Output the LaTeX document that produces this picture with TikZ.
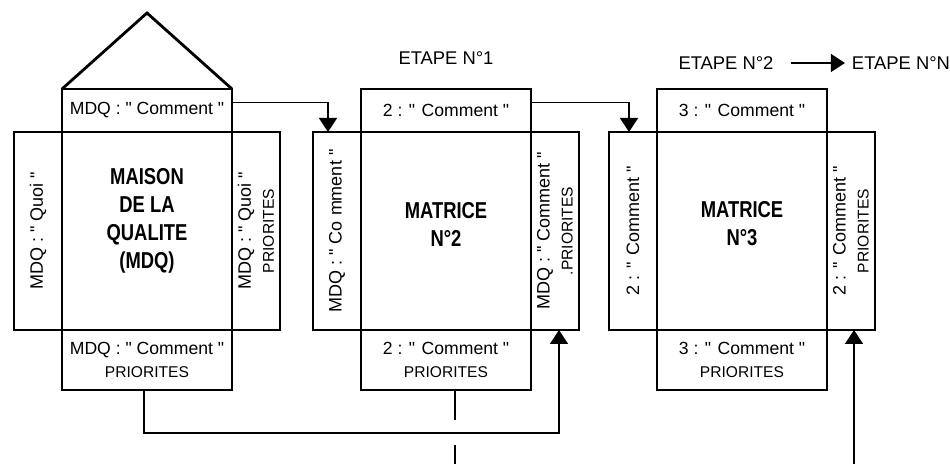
\documentclass[tikz,border=0pt]{standalone}
\usepackage{fontspec}
\setmainfont{Liberation Sans}
\newfontfamily\narrowfont[FakeStretch=0.8]{Liberation Sans}
\usetikzlibrary{positioning,arrows.meta}
\newcommand{\prio}{\fontsize{7.8}{11.5}\selectfont}
\newcommand{\q}{\textquotedbl}

\tikzset{
  box/.style={draw, line width=1.4pt, inner sep=0pt, outer sep=0pt},
  wide/.style={box, minimum width=133pt, minimum height=99pt},
  col/.style={draw, line width=1pt, minimum width=85pt, minimum height=99pt, inner sep=0pt, outer sep=0pt},
  topbox/.style={box, minimum width=85pt, minimum height=21.5pt, font=\fontsize{8.8}{11.5}\selectfont},
  botbox/.style={box, minimum width=85pt, minimum height=30pt, align=center, font=\fontsize{8.8}{11.5}\selectfont},
  side/.style={rotate=90, align=center, inner sep=0pt, font=\fontsize{9}{11.5}\selectfont},
  title/.style={align=center, font=\narrowfont\bfseries\fontsize{11.5}{14}\selectfont},
  etape/.style={font=\fontsize{9.2}{11}\selectfont},
  arr/.style={-{Triangle[length=7pt,width=9pt]}, line width=0.7pt},
}

\begin{document}
\begin{tikzpicture}[x=0.5pt, y=0.5pt]
\useasboundingbox (0,0) rectangle (950,464);

\node[wide] (w1) at (147,233) {};
\node[col] (m1) at (w1) {};
\node[topbox, above=0pt of m1] (t1) {MDQ : \q{} Comment \q};
\node[botbox, below=0pt of m1] (b1) {MDQ : \q{} Comment \q\\\prio PRIORITES};
\node[side] (l1) at ([xshift=12pt]w1.west) {MDQ : \q{} Quoi \q};
\node[side] (r1) at ([xshift=-12pt]w1.east) {MDQ : \q{} Quoi \q\\\prio PRIORITES};
\node[title] (n1) at ([yshift=5pt]m1) {MAISON\\DE LA\\QUALITE\\(MDQ)};
\draw[line width=1.4pt] (t1.north west) -- ([yshift=38pt]t1.north) -- (t1.north east);

\node[wide] (w2) at (446,233) {};
\node[col] (m2) at (w2) {};
\node[topbox, above=0pt of m2] (t2) {2 : \q{} Comment \q};
\node[botbox, below=0pt of m2] (b2) {2 : \q{} Comment \q\\\prio PRIORITES};
\node[side] (l2) at ([xshift=12pt]w2.west) {MDQ : \q{} Co mment \q};
\node[side] (r2) at ([xshift=-12pt]w2.east) {MDQ : \q{} Comment \q\\\prio .PRIORITES};
\node[title] (n2) at ([yshift=3.5pt]m2) {MATRICE\\N°2};

\node[wide] (w3) at (742,233) {};
\node[col] (m3) at (w3) {};
\node[topbox, above=0pt of m3] (t3) {3 : \q{} Comment \q};
\node[botbox, below=0pt of m3] (b3) {3 : \q{} Comment \q\\\prio PRIORITES};
\node[side] (l3) at ([xshift=12pt]w3.west) {2 : \q{} Comment \q};
\node[side] (r3) at ([xshift=-12pt]w3.east) {2 : \q{} Comment \q\\\prio PRIORITES};
\node[title] (n3) at ([yshift=3.5pt]m3) {MATRICE\\N°3};

\node[etape] (e1) at (446,406) {ETAPE N°1};
\node[etape] (e2) at (726,401) {ETAPE N°2};
\node[etape] (eN) at (901,401) {ETAPE N°N};
\draw[arr, shorten <=5pt] (e2) -- (eN);

\coordinate (q1) at (559,31);
\coordinate (q3) at (854,0);

\draw[arr] ([yshift=4pt]t1.east) -| ([xshift=7.5pt]w2.north west);
\draw[arr] ([yshift=4pt]t2.east) -| ([xshift=10pt]w3.north west);
\draw[arr] ([xshift=-1.5pt]b1.south) |- (q1) -- (q1 |- w2.south);
\draw[line width=0.7pt] ([xshift=4.5pt]b2.south) -- ++(0,-30) ++(0,-25) -- ++(0,-19);
\draw[arr] (q3) -- (q3 |- w3.south);
\end{tikzpicture}
\end{document}
